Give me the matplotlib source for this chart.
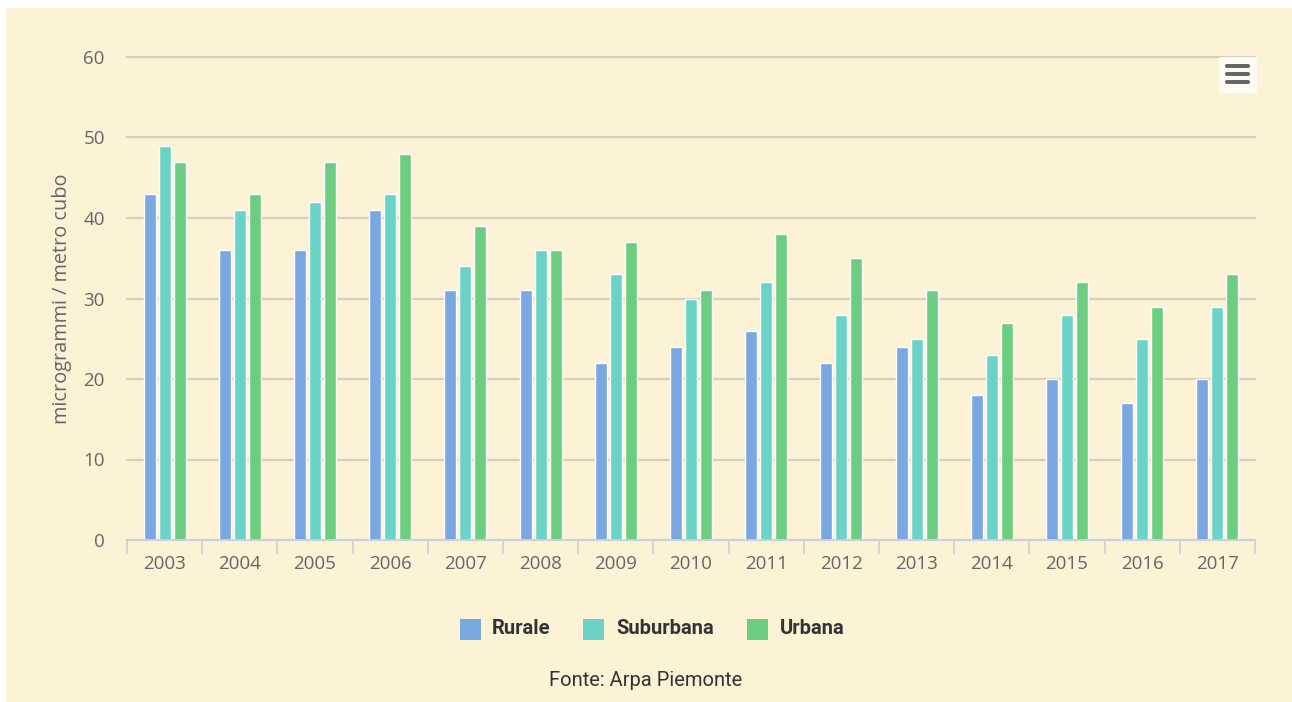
import matplotlib
matplotlib.use("Agg")
import matplotlib.pyplot as plt
from matplotlib.patches import Rectangle, FancyBboxPatch
import numpy as np

# Annual mean concentrations by station type
years = ["2003", "2004", "2005", "2006", "2007", "2008", "2009", "2010",
         "2011", "2012", "2013", "2014", "2015", "2016", "2017"]
rurale = [43, 36, 36, 41, 31, 31, 22, 24, 26, 22, 24, 18, 20, 17, 20]
suburbana = [49, 41, 42, 43, 34, 36, 33, 30, 32, 28, 25, 23, 28, 25, 29]
urbana = [47, 43, 47, 48, 39, 36, 37, 31, 38, 35, 31, 27, 32, 29, 33]
series_names = ["Rurale", "Suburbana", "Urbana"]
y_ticks = [0, 10, 20, 30, 40, 50, 60]

colors = ["#7aa7df", "#6ad3c6", "#6ccc80"]
bg = "#fcf2d6"
grid_c = "#d6cfbd"
axis_c = "#c9d1e0"
text_c = "#666666"

W, H = 1292, 702
fig = plt.figure(figsize=(W / 100, H / 100), dpi=100, facecolor="white")

# cream panel behind everything
fig.patches.append(Rectangle((6 / W, 0), 1 - 6 / W, 1 - 8 / H,
                             transform=fig.transFigure, facecolor=bg,
                             edgecolor="none", zorder=-5))

ax = fig.add_axes([127 / W, 1 - 540 / H, (1255 - 127) / W, (540 - 57) / H])
ax.set_facecolor("none")
ax.set_zorder(1)

x = np.arange(len(years))
slot = 0.2
bw = 0.16
for i, (vals, c) in enumerate(zip([rurale, suburbana, urbana], colors)):
    ax.bar(x + (i - 1) * slot, vals, width=bw, color=c,
           edgecolor="white", linewidth=1.0, zorder=3)

ax.set_xlim(-0.5, len(years) - 0.5)
ax.set_ylim(0, 60)
ax.set_yticks(y_ticks)
ax.set_yticklabels([str(v) for v in y_ticks], fontsize=13.5,
                   color=text_c, family="Open Sans")
ax.yaxis.grid(True, color=grid_c, linewidth=1.6, zorder=1)
for gl in ax.get_ygridlines():
    gl.set_clip_on(False)
ax.tick_params(axis="y", length=0, pad=16)

ax.set_xticks(x)
ax.set_xticklabels(years, fontsize=13.5, color=text_c, family="Open Sans")
ax.tick_params(axis="x", length=0, pad=11)
# category boundary ticks
ax.set_xticks(np.arange(-0.5, len(years)), minor=True)
ax.tick_params(axis="x", which="minor", length=10, width=1.2, color=axis_c)

for s in ["top", "right", "left"]:
    ax.spines[s].set_visible(False)
ax.spines["bottom"].set_color(axis_c)
ax.spines["bottom"].set_linewidth(1.2)
ax.spines["bottom"].set_zorder(4)

ax.set_ylabel("microgrammi / metro cubo", fontsize=14.3, color=text_c,
              family="Open Sans", labelpad=8)

# legend
leg_y = 1 - 629 / H
sq = 21
items = [(460, 492), (583, 616), (747, 780)]
for (sx, tx), name, c in zip(items, series_names, colors):
    fig.patches.append(Rectangle((sx / W, leg_y - (sq / 2) / H), sq / W, sq / H,
                                 transform=fig.transFigure, facecolor=c,
                                 edgecolor="none"))
    fig.text(tx / W, leg_y, name, fontsize=14.5, fontweight="bold",
             color="#333333", va="center", ha="left", family="Roboto")

fig.text(646 / W, 1 - 680 / H, "Fonte: Arpa Piemonte", fontsize=14.5,
         color="#333333", ha="center", va="center", family="Roboto")

# context menu icon
fig.patches.append(FancyBboxPatch((1219 / W, 1 - 93 / H), 38 / W, 36 / H,
                                  boxstyle="round,pad=0,rounding_size=0.003",
                                  transform=fig.transFigure,
                                  facecolor="#fdfbf4", edgecolor="none"))
for yy in [66, 74, 82]:
    fig.patches.append(FancyBboxPatch((1225 / W, 1 - (yy + 2) / H), 25 / W, 4 / H,
                                      boxstyle="round,pad=0,rounding_size=0.002",
                                      transform=fig.transFigure,
                                      facecolor="#666666", edgecolor="none"))

fig.savefig("out.png", dpi=100, facecolor="white")
